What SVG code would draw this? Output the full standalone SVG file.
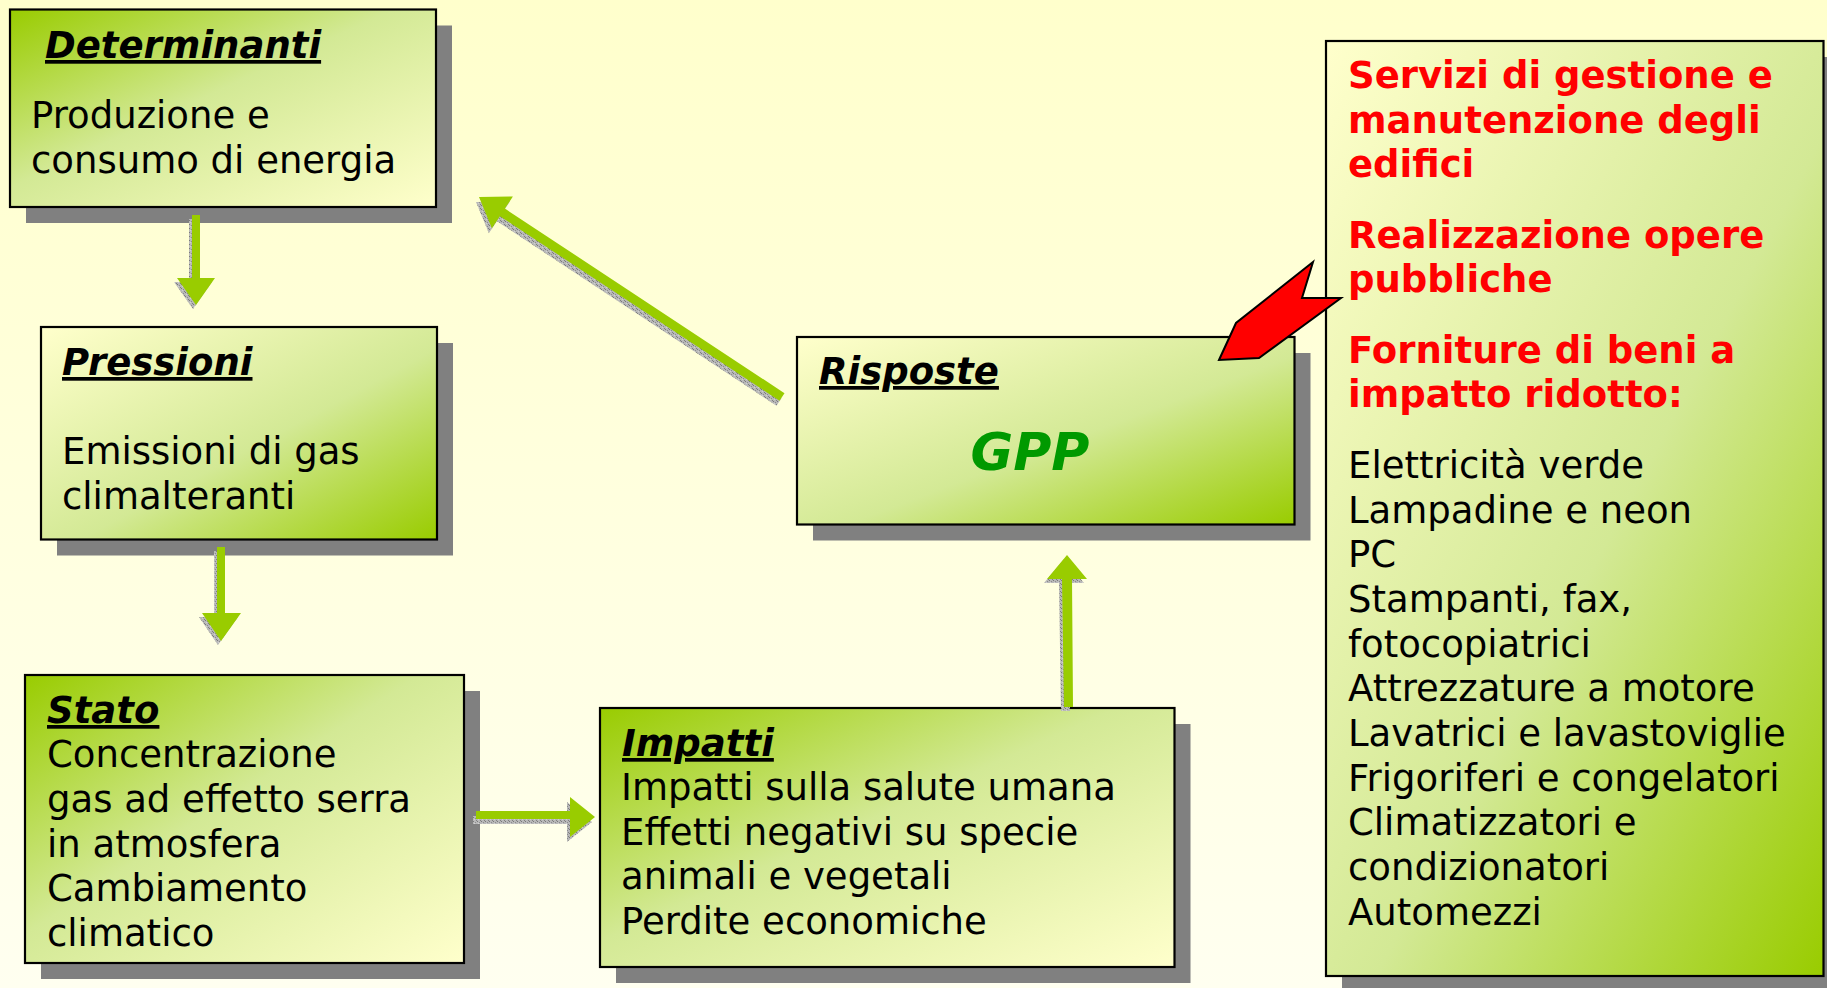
<svg xmlns="http://www.w3.org/2000/svg" width="1827" height="988" viewBox="0 0 1827 988">
<style>
.shadow{fill:#808080}
.box{stroke:#000;stroke-width:2.2}
.t{font-family:"DejaVu Sans",Verdana,sans-serif;font-size:37px;font-weight:bold;font-style:italic;text-decoration:underline;fill:#000}
.b{font-family:"DejaVu Sans",Verdana,sans-serif;font-size:37px;fill:#000}
.r{font-family:"DejaVu Sans",Verdana,sans-serif;font-size:37px;font-weight:bold;fill:#FF0000}
.gpp{font-family:"DejaVu Sans",Verdana,sans-serif;font-size:52px;font-weight:bold;font-style:italic;fill:#009900}
.arr{fill:#99CC00}
.ash{fill:url(#speck)}
.red{fill:#FF0000;stroke:#000;stroke-width:2;stroke-linejoin:miter}
</style>
<defs>
<linearGradient id="bg" x1="0" y1="0" x2="0" y2="1">
<stop offset="0" stop-color="#FFFFCC"/>
<stop offset="1" stop-color="#FFFFF0"/>
</linearGradient>
<linearGradient id="gToP" x1="0" y1="0" x2="1" y2="1">
<stop offset="0" stop-color="#99CC00"/>
<stop offset="0.45" stop-color="#D3E995"/>
<stop offset="1" stop-color="#FFFFCC"/>
</linearGradient>
<linearGradient id="pToG" x1="0" y1="0" x2="1" y2="1">
<stop offset="0" stop-color="#FFFFCC"/>
<stop offset="0.55" stop-color="#D3E995"/>
<stop offset="1" stop-color="#99CC00"/>
</linearGradient>
<pattern id="speck" width="4" height="4" patternUnits="userSpaceOnUse">
<rect width="4" height="4" fill="#B8B8B8"/>
<rect x="0" y="0" width="1" height="1" fill="#7A7A7A"/>
<rect x="2" y="1" width="1" height="1" fill="#8C8C8C"/>
<rect x="1" y="2" width="1" height="1" fill="#D0D0D0"/>
<rect x="3" y="3" width="1" height="1" fill="#808080"/>
</pattern>
<polygon id="a1" points="192,215 200,215 200,278 215,278 196,305 177,278 192,278"/>
<polygon id="a2" points="217,547 225,547 225,613 241,613 221,641 202,613 217,613"/>
<polygon id="a3" points="476,811 570,811 570,797 595,817 570,837 570,819 476,819"/>
<polygon id="a4" points="1064,707 1073,707 1072,579 1087,579 1067,555 1047,579 1062,579"/>
<polygon id="a5" points="784.5,393.2 504.9,208.6 512.9,196.5 479,197 491.9,228.3 499.9,216.2 779.5,400.8"/>
</defs>

<rect x="0" y="0" width="1827" height="988" fill="url(#bg)"/>

<g id="determinanti">
<rect class="shadow" x="26" y="25.5" width="426" height="197.5"/>
<rect class="box" x="10" y="9.5" width="426" height="197.5" fill="url(#gToP)"/>
<text class="t" x="45" y="58">Determinanti</text>
<text class="b" x="31" y="128">Produzione e</text>
<text class="b" x="31" y="173">consumo di energia</text>
</g>

<g id="pressioni">
<rect class="shadow" x="57" y="343" width="396" height="212.5"/>
<rect class="box" x="41" y="327" width="396" height="212.5" fill="url(#pToG)"/>
<text class="t" x="62" y="375">Pressioni</text>
<text class="b" x="62" y="464">Emissioni di gas</text>
<text class="b" x="62" y="509">climalteranti</text>
</g>

<g id="stato">
<rect class="shadow" x="41" y="691" width="439" height="288"/>
<rect class="box" x="25" y="675" width="439" height="288" fill="url(#gToP)"/>
<text class="t" x="47" y="723">Stato</text>
<text class="b" x="47" y="767">Concentrazione</text>
<text class="b" x="47" y="812">gas ad effetto serra</text>
<text class="b" x="47" y="857">in atmosfera</text>
<text class="b" x="47" y="901">Cambiamento</text>
<text class="b" x="47" y="946">climatico</text>
</g>

<g id="impatti">
<rect class="shadow" x="616" y="724" width="574.5" height="259"/>
<rect class="box" x="600" y="708" width="574.5" height="259" fill="url(#gToP)"/>
<text class="t" x="622" y="756">Impatti</text>
<text class="b" x="621" y="800">Impatti sulla salute umana</text>
<text class="b" x="621" y="845">Effetti negativi su specie</text>
<text class="b" x="621" y="889">animali e vegetali</text>
<text class="b" x="621" y="934">Perdite economiche</text>
</g>

<g id="risposte">
<rect class="shadow" x="813" y="353" width="497.5" height="187.5"/>
<rect class="box" x="797" y="337" width="497.5" height="187.5" fill="url(#pToG)"/>
<text class="t" x="819" y="384">Risposte</text>
<text class="gpp" x="1030" y="470" text-anchor="middle">GPP</text>
</g>

<g id="gpp-ambiti">
<rect class="shadow" x="1342" y="57" width="497.5" height="935"/>
<rect class="box" x="1326" y="41" width="497.5" height="935" fill="url(#pToG)"/>
<text class="r" x="1348" y="88">Servizi di gestione e</text>
<text class="r" x="1348" y="133">manutenzione degli</text>
<text class="r" x="1348" y="177">edifici</text>
<text class="r" x="1348" y="248">Realizzazione opere</text>
<text class="r" x="1348" y="292">pubbliche</text>
<text class="r" x="1348" y="363">Forniture di beni a</text>
<text class="r" x="1348" y="407">impatto ridotto:</text>
<text class="b" x="1348" y="478">Elettricità verde</text>
<text class="b" x="1348" y="523">Lampadine e neon</text>
<text class="b" x="1348" y="567">PC</text>
<text class="b" x="1348" y="612">Stampanti, fax,</text>
<text class="b" x="1348" y="657">fotocopiatrici</text>
<text class="b" x="1348" y="701">Attrezzature a motore</text>
<text class="b" x="1348" y="746">Lavatrici e lavastoviglie</text>
<text class="b" x="1348" y="791">Frigoriferi e congelatori</text>
<text class="b" x="1348" y="835">Climatizzatori e</text>
<text class="b" x="1348" y="880">condizionatori</text>
<text class="b" x="1348" y="925">Automezzi</text>
</g>

<g id="connectors">
<use href="#a1" class="ash" transform="translate(-3,4)"/>
<use href="#a1" class="arr"/>
<use href="#a2" class="ash" transform="translate(-3,4)"/>
<use href="#a2" class="arr"/>
<use href="#a3" class="ash" transform="translate(-3,5)"/>
<use href="#a3" class="arr"/>
<use href="#a4" class="ash" transform="translate(-3,4)"/>
<use href="#a4" class="arr"/>
<use href="#a5" class="ash" transform="translate(-3,5)"/>
<use href="#a5" class="arr"/>
<polygon class="red" points="1219,360 1236,323 1313,262 1302,298 1341,298 1259,358"/>
</g>
</svg>
